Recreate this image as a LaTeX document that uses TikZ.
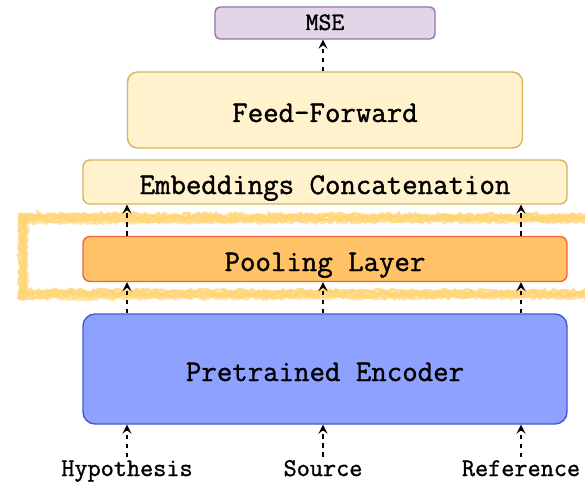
\documentclass[tikz,border=0pt]{standalone}
\usepackage{fontspec}
\newfontfamily\cour{Latin Modern Mono}[FakeBold=1.2]
\usetikzlibrary{arrows.meta,decorations.pathmorphing}
\definecolor{msefill}{HTML}{E1D5E7}
\definecolor{msedraw}{HTML}{9673A6}
\definecolor{yfill}{HTML}{FFF2CC}
\definecolor{ydraw}{HTML}{D6B656}
\definecolor{pfill}{HTML}{FFC266}
\definecolor{pdraw}{HTML}{EE6540}
\definecolor{efill}{HTML}{8FA1FF}
\definecolor{edraw}{HTML}{4457D6}
\definecolor{sketch}{HTML}{FFD575}
\tikzset{
  box/.style={draw, line width=1.4pt, text=black, inner sep=0pt, text height=28pt, text depth=4pt, font=\cour\bfseries\fontsize{30}{33}\selectfont},
  lbl/.style={inner sep=0pt, font=\cour\bfseries\fontsize{25.5}{28}\selectfont, text=black},
  arr/.style={-{Stealth[length=9pt,width=9pt,inset=3.5pt]}, line width=1.6pt, dash pattern=on 4.5pt off 4.5pt, black},
  sk/.style={draw=sketch, line width=3pt, line cap=round, decorate, decoration={random steps, segment length=2.5pt, amplitude=1.6pt}},
}
\begin{document}
\begin{tikzpicture}[x=1pt,y=-1pt]
\useasboundingbox (0,0) rectangle (585,486);
\fill[white] (0,0) rectangle (585,486);
% sketchy highlight
\begin{scope}
\clip (0,0) rectangle (585,486);
\foreach \o/\p in {-3.5/0.8,-1.5/0.9,0.5/0.85,2.5/0.8,4/0.6}{
  \draw[sk, opacity=\p] (20,218+\o) -- (620,218+\o*0.8);
  \draw[sk, opacity=\p] (20,294+\o) -- (620,294+\o*0.8);
  \draw[sk, opacity=\p] (23+\o,214) -- (23+\o*0.8,299);
}
\end{scope}
% columns
\coordinate (c1) at (127,0);
\coordinate (c2) at (323,0);
\coordinate (c3) at (521,0);
% boxes
\node[box, fill=msefill, draw=msedraw, rounded corners=5pt, minimum width=220pt, minimum height=32pt, text height=17pt, text depth=3pt, font=\cour\bfseries\fontsize{25}{28}\selectfont] (mse) at (325,23) {MSE};
\node[box, fill=yfill, draw=ydraw, rounded corners=10pt, minimum width=395pt, minimum height=76pt] (ff) at (325,110) {Feed-Forward};
\node[box, fill=yfill, draw=ydraw, rounded corners=7pt, minimum width=484pt, minimum height=44pt] (emb) at (325,182) {Embeddings Concatenation};
\node[box, fill=pfill, draw=pdraw, rounded corners=7pt, minimum width=484pt, minimum height=45pt] (pool) at (325,259) {Pooling Layer};
\node[box, fill=efill, draw=edraw, rounded corners=12pt, minimum width=484pt, minimum height=110pt] (enc) at (325,369) {Pretrained Encoder};
% labels
\node[lbl, anchor=base] (hyp) at (127,476) {Hypothesis};
\node[lbl, anchor=base] (src) at (323,476) {Source};
\node[lbl, anchor=base] (ref) at (521,476) {Reference};
% arrows
\draw[arr] (hyp.north) ++(0,-3) -- (hyp.north |- enc.south);
\draw[arr] (src.north) ++(0,-3) -- (src.north |- enc.south);
\draw[arr] (ref.north) ++(0,-3) -- (ref.north |- enc.south);
\draw[arr] (c1 |- enc.north) -- (c1 |- pool.south);
\draw[arr] (c2 |- enc.north) -- (c2 |- pool.south);
\draw[arr] (c3 |- enc.north) -- (c3 |- pool.south);
\draw[arr] (c1 |- pool.north) -- (c1 |- emb.south);
\draw[arr] (c3 |- pool.north) -- (c3 |- emb.south);
\draw[arr] (c2 |- ff.north) -- (c2 |- mse.south);
\end{tikzpicture}
\end{document}
